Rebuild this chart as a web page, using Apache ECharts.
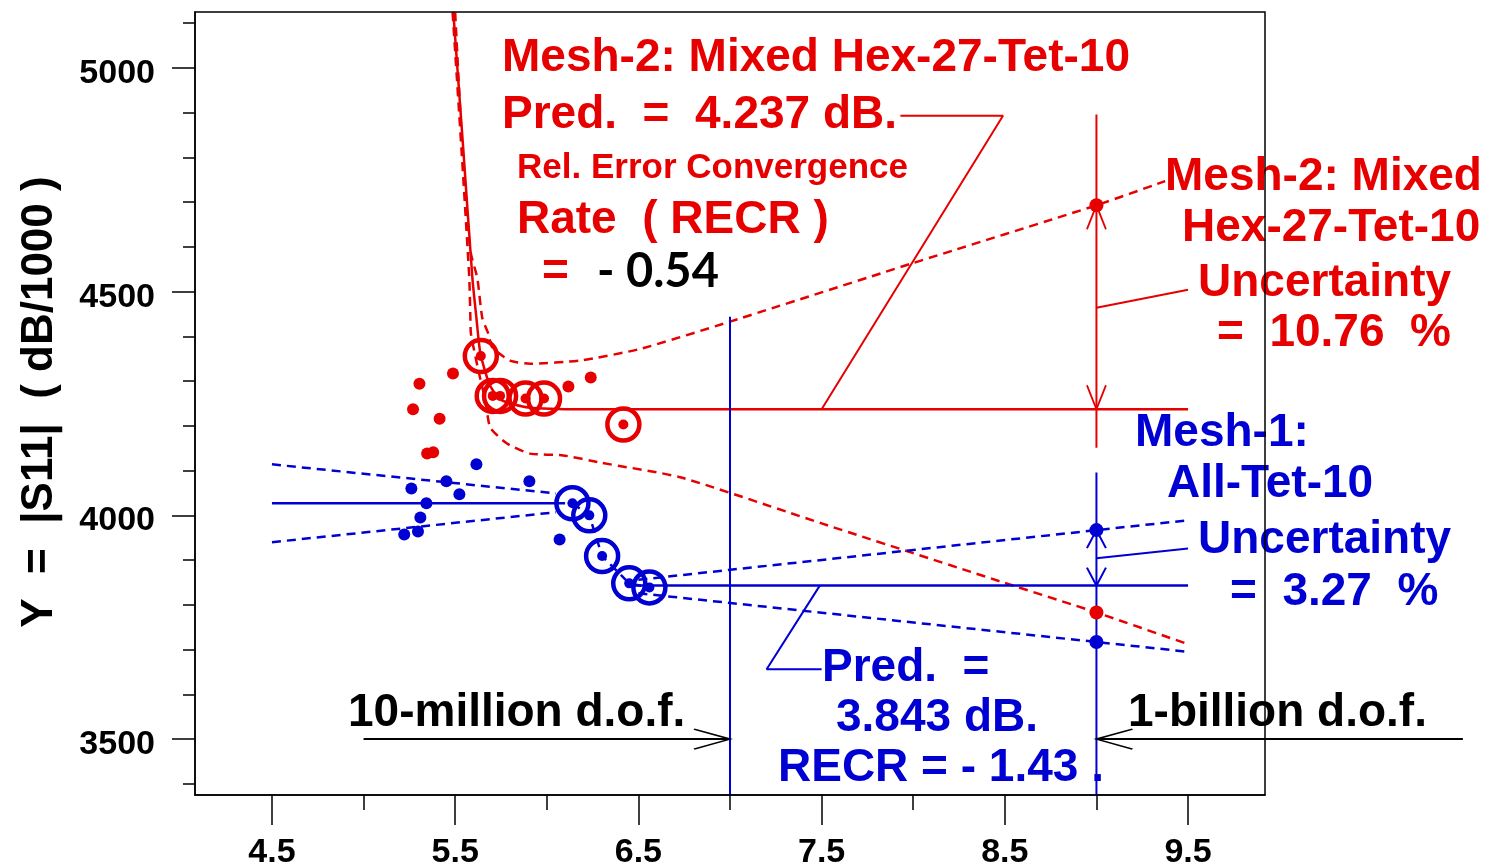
<!DOCTYPE html>
<html><head><meta charset="utf-8">
<script src="https://cdn.jsdelivr.net/npm/echarts@6/dist/echarts.min.js"></script>
<style>html,body{margin:0;padding:0;background:#fff}#c{width:1487px;height:865px}</style>
</head><body><div id="c"></div>
<script>
// ---- axis ticks ----
const xTickLabels = [4.5, 5.5, 6.5, 7.5, 8.5, 9.5];
const xMinorTicks = [5.0, 6.0, 7.0, 8.0, 9.0];
const yTickLabels = [3500, 4000, 4500, 5000];
const yMinorTicks = [3400, 3600, 3700, 3800, 3900, 4100, 4200, 4300, 4400, 4600, 4700, 4800, 4900, 5100];

// ---- Mesh-2 (red) ----
const mesh2Dots = [[5.27,4237],[5.305,4294],[5.347,4138],[5.38,4141],[5.415,4216],[5.488,4317],[6.118,4288],[6.24,4308]];
const mesh2Circled = [[5.640,4356],[5.705,4267],[5.745,4267],[5.884,4261],[5.985,4261],[6.418,4203]];
const mesh2Fit = [[5.490,5124],[5.545,4814],[5.594,4530],[5.616,4441],[5.638,4361],[5.690,4290],[5.750,4258],[5.900,4241],[6.200,4237],[9.5,4237]];
const mesh2Upper = [[5.500,5124],[5.540,4814],[5.583,4591],[5.621,4530],[5.648,4441],[5.681,4406],[5.703,4375],[5.800,4346],[5.910,4339],[6.180,4346],[6.510,4372],[7.0,4433],[8.0,4564],[9.0,4693],[9.375,4747]];
const mesh2Lower = [[5.486,5124],[5.535,4814],[5.577,4530],[5.583,4441],[5.586,4406],[5.627,4323],[5.665,4256],[5.692,4196],[5.785,4160],[5.910,4138],[6.090,4134],[6.290,4118],[6.730,4085],[7.5,3982],[8.5,3849],[9.0,3783],[9.5,3712]];
const mesh2Bounds = [[9.0,4693],[9.0,3783]];
const mesh2Vertical = [[9.0,4896],[9.0,4151]];
const mesh2PredLeader = [[7.93,4893],[8.49,4893],[7.5,4237]];
const mesh2UncLeader = [[9.0,4464],[9.5,4504]];
const mesh2ArrowUp = [[9.0,4693]];
const mesh2ArrowDown = [[9.0,4237]];

// ---- Mesh-1 (blue) ----
const mesh1Dots = [[5.222,3957],[5.261,4060],[5.297,3964],[5.31,3995],[5.343,4027],[5.452,4076],[5.523,4047],[5.616,4114],[5.905,4076],[6.07,3946]];
const mesh1Circled = [[6.14,4027],[6.232,4000],[6.302,3909],[6.45,3848],[6.56,3839]];
const mesh1LeftMid = [[4.5,4027],[6.1,4027]];
const mesh1LeftUpper = [[4.5,4114],[6.05,4049]];
const mesh1LeftLower = [[4.5,3940],[6.05,4007]];
const mesh1RightMid = [[6.45,3843],[9.5,3843]];
const mesh1RightUpper = [[6.5,3856],[9.0,3967],[9.5,3989]];
const mesh1RightLower = [[6.5,3826],[9.0,3717],[9.5,3695]];
const mesh1Bounds = [[9.0,3967],[9.0,3717]];
const mesh1Vertical = [[9.0,4096],[9.0,3375]];
const dof10M = [[7.0,4444],[7.0,3375]];
const mesh1PredLeader = [[7.5,3656],[7.2,3656],[7.49,3843]];
const mesh1UncLeader = [[9.0,3904],[9.5,3926]];
const mesh1ArrowUp = [[9.0,3967]];
const mesh1ArrowDown = [[9.0,3843]];

// ---- d.o.f. arrows (black) ----
const arrow10M = [[5.0,3500],[7.0,3500]];
const arrow1B = [[11.0,3500],[9.0,3500]];

const RED = '#e60000', BLUE = '#0000d2', BLACK = '#000';
const FONT = '"Liberation Sans", Arial, sans-serif';
const X_MIN = 4.08, X_MAX = 9.92, Y_MIN = 3375, Y_MAX = 5125;
const GRID_LEFT = 195, GRID_W = 1070, OUTER_W = 1292;

function line(data, color, width, dashed, extra) {
  return Object.assign({
    type: 'line', data: data, symbol: 'none', smooth: false, silent: true,
    lineStyle: { color: color, width: width, type: dashed ? [9, 6] : 'solid' }, z: 3
  }, extra || {});
}
function dots(data, color, size, z) {
  return { type: 'scatter', data: data, symbol: 'circle', symbolSize: size, silent: true,
    itemStyle: { color: color, opacity: 1 }, z: z || 5 };
}
function rings(data, color) {
  return { type: 'scatter', data: data, symbol: 'circle', symbolSize: 32, silent: true,
    itemStyle: { color: 'none', borderColor: color, borderWidth: 4.5, opacity: 1 }, z: 4 };
}
function chevron(data, color, path, size, offset, width) {
  return { type: 'scatter', data: data, symbol: path, symbolSize: size, symbolOffset: offset,
    symbolKeepAspect: false, silent: true, clip: false,
    itemStyle: { color: 'none', borderColor: color, borderWidth: width || 2, opacity: 1 }, z: 6 };
}
const UP = 'path://M0,24 L10,0 L20,24';
const DOWN = 'path://M0,0 L10,24 L20,0';
const RIGHT = 'path://M0,0 L36,10 L0,20';
const LEFT = 'path://M36,0 L0,10 L36,20';

function txt(x, y, s, color, size, font) {
  return { type: 'text', x: x, y: y, z: 8, silent: true,
    style: { text: s, fill: color, font: 'bold ' + size + 'px ' + (font || FONT), align: 'left', verticalAlign: 'middle' } };
}

const chart = echarts.init(document.getElementById('c'), null, { renderer: 'canvas' });
chart.setOption({
  animation: false,
  backgroundColor: '#fff',
  grid: [
    { left: GRID_LEFT, top: 12, width: GRID_W, height: 783, show: true, borderColor: '#000', borderWidth: 1.5,
      backgroundColor: 'transparent', containLabel: false, outerBoundsMode: 'none', z: 10 },
    // wider, invisible grid with the same scale, for the arrow that runs past the frame
    { left: GRID_LEFT, top: 12, width: OUTER_W, height: 783, show: false, containLabel: false, outerBoundsMode: 'none' }
  ],
  xAxis: [
    { type: 'value', gridIndex: 0, min: X_MIN, max: X_MAX, position: 'bottom',
      axisLine: { show: true, onZero: false, lineStyle: { color: BLACK, width: 1.5 } },
      axisTick: { show: true, customValues: xTickLabels, length: 30, lineStyle: { color: BLACK, width: 1.5 } },
      axisLabel: { show: true, customValues: xTickLabels, formatter: v => Number(v).toFixed(1), margin: 41,
        color: BLACK, fontSize: 34, fontWeight: 'bold', fontFamily: FONT },
      splitLine: { show: false } },
    { type: 'value', gridIndex: 0, min: X_MIN, max: X_MAX, position: 'bottom',
      axisLine: { show: false, onZero: false },
      axisTick: { show: true, customValues: xMinorTicks, length: 15, lineStyle: { color: BLACK, width: 1.5 } },
      axisLabel: { show: false }, splitLine: { show: false } },
    { type: 'value', gridIndex: 1, min: X_MIN, max: X_MIN + (X_MAX - X_MIN) * OUTER_W / GRID_W, show: false }
  ],
  yAxis: [
    { type: 'value', gridIndex: 0, min: Y_MIN, max: Y_MAX, position: 'left',
      axisLine: { show: true, onZero: false, lineStyle: { color: BLACK, width: 1.5 } },
      axisTick: { show: true, customValues: yTickLabels, length: 23, lineStyle: { color: BLACK, width: 1.5 } },
      axisLabel: { show: true, customValues: yTickLabels, formatter: v => String(v), margin: 40,
        verticalAlign: 'top', lineHeight: 11,
        color: BLACK, fontSize: 34, fontWeight: 'bold', fontFamily: FONT },
      splitLine: { show: false } },
    { type: 'value', gridIndex: 0, min: Y_MIN, max: Y_MAX, position: 'left',
      axisLine: { show: false, onZero: false },
      axisTick: { show: true, customValues: yMinorTicks, length: 12, lineStyle: { color: BLACK, width: 1.5 } },
      axisLabel: { show: false }, splitLine: { show: false } },
    { type: 'value', gridIndex: 1, min: Y_MIN, max: Y_MAX, show: false }
  ],
  series: [
    // red
    line(mesh2Fit, RED, 2.5, false, { smooth: 0.2 }),
    line(mesh2Upper, RED, 2.5, true, { smooth: 0.2 }),
    line(mesh2Lower, RED, 2.5, true, { smooth: 0.2 }),
    line(mesh2Vertical, RED, 2, false),
    line(mesh2PredLeader, RED, 2, false),
    line(mesh2UncLeader, RED, 2, false),
    // blue
    line(mesh1LeftMid, BLUE, 2.5, false),
    line(mesh1LeftUpper, BLUE, 2.5, true),
    line(mesh1LeftLower, BLUE, 2.5, true),
    line(mesh1Circled, BLUE, 2.5, true),
    line(mesh1RightMid, BLUE, 2.5, false),
    line(mesh1RightUpper, BLUE, 2.5, true),
    line(mesh1RightLower, BLUE, 2.5, true),
    line(mesh1Vertical, BLUE, 2, false),
    line(dof10M, BLUE, 2, false),
    line(mesh1PredLeader, BLUE, 2, false),
    line(mesh1UncLeader, BLUE, 2, false),
    // black d.o.f. arrows
    line(arrow10M, BLACK, 2, false),
    line(arrow1B, BLACK, 2, false, { xAxisIndex: 2, yAxisIndex: 2 }),
    // points
    dots(mesh2Dots, RED, 12),
    rings(mesh2Circled, RED),
    dots(mesh2Circled, RED, 10),
    dots(mesh2Bounds, RED, 14),
    dots(mesh1Dots, BLUE, 12),
    rings(mesh1Circled, BLUE),
    dots(mesh1Circled, BLUE, 10),
    dots(mesh1Bounds, BLUE, 14),
    // arrow heads
    chevron(mesh2ArrowUp, RED, UP, [19, 24], [0, 12]),
    chevron(mesh2ArrowDown, RED, DOWN, [19, 24], [0, -12]),
    chevron(mesh1ArrowUp, BLUE, UP, [19, 18], [0, 9]),
    chevron(mesh1ArrowDown, BLUE, DOWN, [19, 18], [0, -9]),
    chevron([arrow10M[1]], BLACK, RIGHT, [36, 20], [-18, 0]),
    chevron([arrow1B[1]], BLACK, LEFT, [36, 20], [18, 0])
  ],
  graphic: [
    { type: 'text', x: 40, y: 402, rotation: Math.PI / 2, z: 8, silent: true,
      style: { text: 'Y  =  |S11|  ( dB/1000 )', fill: BLACK, font: 'bold 44px ' + FONT, align: 'center', verticalAlign: 'middle' } },
    txt(502, 58, 'Mesh-2: Mixed Hex-27-Tet-10', RED, 46),
    txt(502, 115, 'Pred.  =  4.237 dB.', RED, 46),
    txt(517, 168, 'Rel. Error Convergence', RED, 35),
    txt(517, 220, 'Rate  ( RECR )', RED, 46),
    txt(542, 272, '=', RED, 46),
    txt(597, 272, '- 0.54', BLACK, 47, 'Lato, "Open Sans", sans-serif'),
    txt(1165, 177, 'Mesh-2: Mixed', RED, 46),
    txt(1182, 228, 'Hex-27-Tet-10', RED, 46),
    txt(1198, 283, 'Uncertainty', RED, 46),
    txt(1217, 333, '=  10.76  %', RED, 46),
    txt(1135, 433, 'Mesh-1:', BLUE, 46),
    txt(1167, 484, 'All-Tet-10', BLUE, 46),
    txt(1198, 540, 'Uncertainty', BLUE, 46),
    txt(1230, 592, '=  3.27  %', BLUE, 46),
    txt(822, 668, 'Pred.  =', BLUE, 46),
    txt(836, 718, '3.843 dB.', BLUE, 46),
    txt(778, 768, 'RECR = - 1.43 .', BLUE, 46),
    txt(348, 713, '10-million d.o.f.', BLACK, 46),
    txt(1128, 713, '1-billion d.o.f.', BLACK, 46)
  ]
});
</script></body></html>
